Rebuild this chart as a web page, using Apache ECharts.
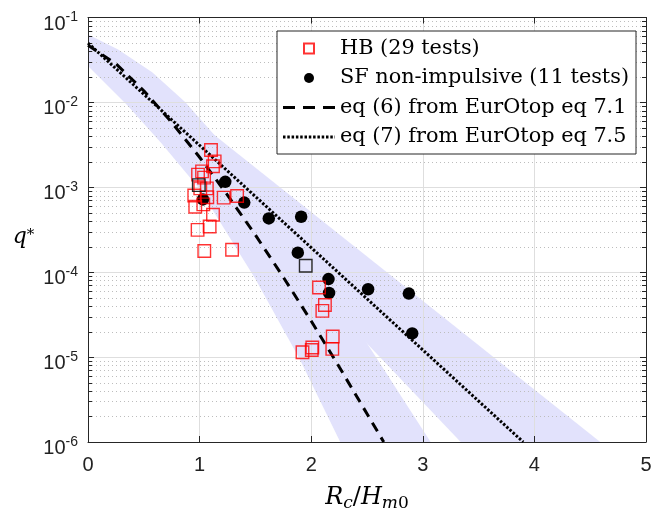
<!DOCTYPE html>
<html><head><meta charset="utf-8">
<script src="https://cdn.jsdelivr.net/npm/echarts@6/dist/echarts.min.js"></script>
<style>html,body{margin:0;padding:0;background:#fff}#c{width:666px;height:517px}</style>
</head><body><div id="c"></div>
<script>
// ---- data ----
const hbX = [1.102, 1.135, 1.120, 1.022, 0.986, 1.040, 0.952, 1.065, 1.069, 1.216, 1.336, 0.961, 1.033, 1.120, 0.982, 1.090, 1.042, 1.291, 1.006,
             2.070, 2.123, 2.100, 2.193, 2.189, 2.010, 2.005, 1.922];
const hbQ = [2.75e-3, 2.02e-3, 1.77e-3, 1.54e-3, 1.41e-3, 1.30e-3, 8.0e-4, 9.7e-4, 7.65e-4, 7.55e-4, 7.9e-4, 5.9e-4, 6.3e-4, 4.75e-4, 3.15e-4, 3.45e-4, 1.78e-4, 1.84e-4, 9.7e-4,
             6.6e-5, 4.1e-5, 3.5e-5, 1.75e-5, 1.25e-5, 1.30e-5, 1.21e-5, 1.14e-5];
const hbDarkX = [0.993, 1.951];
const hbDarkQ = [1.06e-3, 1.19e-4];
const sfX = [1.03, 1.23, 1.40, 1.62, 1.91, 1.88, 2.155, 2.16, 2.51, 2.875, 2.905];
const sfQ = [7.2e-4, 1.16e-3, 6.6e-4, 4.3e-4, 4.5e-4, 1.7e-4, 8.3e-5, 5.7e-5, 6.3e-5, 5.6e-5, 1.9e-5];
const eq6X = [0, 0.25, 0.5, 0.75, 1.0, 1.25, 1.5, 1.75, 2.0, 2.25, 2.5, 2.65];
const eq6Q = [0.047, 0.0285, 0.0137, 0.00582, 0.00226, 8.1e-4, 2.74e-4, 8.75e-5, 2.66e-5, 7.7e-6, 2.15e-6, 1.0e-6];
const eq7X = [0, 3.9];
const eq7Q = [0.05, 1.0e-6];
// uncertainty band around eq (6)
const band6UpX = [0, 0.27, 0.575, 0.87, 1.2, 1.5, 2.0, 2.5, 3.07];
const band6UpQ = [0.063, 0.0419, 0.0226, 0.0101, 3.29e-3, 1.10e-3, 1.35e-4, 1.46e-5, 1.0e-6];
const band6LoX = [0, 0.35, 0.66, 1.0, 1.5, 1.9, 2.26];
const band6LoQ = [0.0269, 9.33e-3, 3.29e-3, 9.55e-4, 8.32e-5, 9.33e-6, 1.0e-6];
// uncertainty band around eq (7)
const band7UpX = [0, 4.59];
const band7UpQ = [0.063, 1.0e-6];
const band7LoX = [0, 3.34];
const band7LoQ = [0.041, 1.0e-6];
// axes
const xTicks = [0, 1, 2, 3, 4, 5];
const yTickExp = [-6, -5, -4, -3, -2, -1];
const yMinorMult = [2, 3, 4, 5, 6, 7, 8, 9];
const legendNames = ['HB (29 tests)', 'SF non-impulsive (11 tests)', 'eq (6) from EurOtop eq 7.1', 'eq (7) from EurOtop eq 7.5'];

// ---- chart ----
const pairs = (xs, qs) => xs.map((x, i) => [x, qs[i]]);
const bandColor = '#e2e2fc';
const axisColor = '#262626';

function bandRenderer(ux, uq, lx, lq) {
  return function (params, api) {
    const pts = [];
    for (let i = 0; i < ux.length; i++) pts.push(api.coord([ux[i], uq[i]]));
    for (let i = lx.length - 1; i >= 0; i--) pts.push(api.coord([lx[i], lq[i]]));
    return { type: 'polygon', shape: { points: pts }, style: { fill: bandColor } };
  };
}
function minorGrid(params, api) {
  const children = [];
  const x0 = api.coord([xTicks[0], 1e-3])[0];
  const x1 = api.coord([xTicks[xTicks.length - 1], 1e-3])[0];
  for (let d = 0; d < yTickExp.length - 1; d++) {
    for (const m of yMinorMult) {
      const v = m * Math.pow(10, yTickExp[d]);
      const y = Math.round(api.coord([0, v])[1]) + 0.5;
      children.push({ type: 'line', shape: { x1: x0, y1: y, x2: x1, y2: y }, style: { stroke: '#bdbdbd', lineWidth: 1, lineDash: [1, 3] } });
      children.push({ type: 'line', shape: { x1: x0, y1: y, x2: x0 + 4, y2: y }, style: { stroke: axisColor, lineWidth: 1 } });
      children.push({ type: 'line', shape: { x1: x1 - 4, y1: y, x2: x1, y2: y }, style: { stroke: axisColor, lineWidth: 1 } });
    }
  }
  return { type: 'group', children };
}

const axisLine = { show: true, onZero: false, lineStyle: { color: axisColor, width: 1 } };
const axisTick = { show: true, inside: true, length: 6, lineStyle: { color: axisColor, width: 1 } };
const yLabel = {
  fontFamily: 'Liberation Sans', color: '#222', margin: 10, showMinLabel: true, showMaxLabel: true,
  formatter: function (v) {
    const e = Math.round(Math.log10(v));
    return yTickExp.indexOf(e) >= 0 ? '{b|10}{s|' + e + '}' : '';
  },
  rich: {
    b: { fontFamily: 'Liberation Sans', fontSize: 20, color: '#222', padding: [13, 0, 0, 0] },
    s: { fontFamily: 'Liberation Sans', fontSize: 14, color: '#222' }
  }
};
const noSymbol = { color: 'rgba(0,0,0,0)', borderColor: 'rgba(0,0,0,0)', borderWidth: 0, opacity: 0 };

const option = {
  animation: false,
  backgroundColor: '#fff',
  grid: { left: 88, top: 17.5, width: 558, height: 430, containLabel: false },
  legend: {
    data: [
      { name: legendNames[0], icon: 'path://M0,0L10,0L10,10L0,10Z' },
      { name: legendNames[1], icon: 'circle' },
      { name: legendNames[2], itemStyle: noSymbol, lineStyle: { color: '#000', width: 3, type: [12, 8] } },
      { name: legendNames[3], itemStyle: noSymbol, lineStyle: { color: '#000', width: 3, type: [2.5, 1.8] } }
    ],
    orient: 'vertical', left: 277, top: 31, z: 10,
    itemWidth: 52, itemHeight: 10, itemGap: 5.5,
    padding: [5.5, 7, 5, 4.5],
    backgroundColor: '#fff', borderColor: axisColor, borderWidth: 1, borderRadius: 0,
    selectedMode: false,
    textStyle: { fontFamily: 'DejaVu Serif', fontSize: 20.8, color: '#000', lineHeight: 24 }
  },
  xAxis: [
    {
      type: 'value', min: 0, max: 5, interval: 1, position: 'bottom', z: 3,
      axisLine, axisTick,
      axisLabel: { fontFamily: 'Liberation Sans', fontSize: 20, color: '#222', margin: 13, showMinLabel: true, showMaxLabel: true },
      splitLine: { show: true, lineStyle: { color: '#dedede', width: 1 } },
      name: '{i|R}{sub|c}{n|/}{i|H}{sub|m}{subn|0}', nameLocation: 'middle', nameGap: 56,
      nameTextStyle: {
        align: 'center', verticalAlign: 'middle',
        rich: {
          i: { fontFamily: 'DejaVu Serif', fontStyle: 'italic', fontSize: 24, color: '#000' },
          n: { fontFamily: 'DejaVu Serif', fontSize: 24, color: '#000' },
          sub: { fontFamily: 'DejaVu Serif', fontStyle: 'italic', fontSize: 17, color: '#000', padding: [11, 0, 0, 0] },
          subn: { fontFamily: 'DejaVu Serif', fontSize: 17, color: '#000', padding: [11, 0, 0, 0] }
        }
      }
    },
    {
      type: 'value', min: 0, max: 5, interval: 1, position: 'top', z: 3,
      axisLine, axisTick, axisLabel: { show: false }, splitLine: { show: false }
    }
  ],
  yAxis: [
    {
      type: 'log', logBase: 10, min: 1e-6, max: 1e-1, splitNumber: 5, position: 'left', z: 3,
      axisLine, axisTick, axisLabel: yLabel,
      splitLine: { show: true, lineStyle: { color: '#dedede', width: 1 } },
      name: '{q|q}{s|*}', nameLocation: 'middle', nameGap: 64.5, nameRotate: 0,
      nameTextStyle: {
        align: 'center', verticalAlign: 'middle', padding: [16, 0, 0, 0],
        rich: {
          q: { fontFamily: 'DejaVu Serif', fontStyle: 'italic', fontSize: 22, color: '#000' },
          s: { fontFamily: 'DejaVu Serif', fontSize: 15, color: '#000', padding: [0, 0, 6, 0] }
        }
      }
    },
    {
      type: 'log', logBase: 10, min: 1e-6, max: 1e-1, splitNumber: 5, position: 'right', z: 3,
      axisLine, axisTick, axisLabel: { show: false }, splitLine: { show: false }
    }
  ],
  series: [
    { type: 'custom', name: 'band6', z: 1, silent: true, data: [[0, 1e-3]], encode: { x: 0, y: 1 },
      renderItem: bandRenderer(band6UpX, band6UpQ, band6LoX, band6LoQ) },
    { type: 'custom', name: 'band7', z: 1, silent: true, data: [[0, 1e-3]], encode: { x: 0, y: 1 },
      renderItem: bandRenderer(band7UpX, band7UpQ, band7LoX, band7LoQ) },
    { type: 'custom', name: 'minor', z: 2, silent: true, data: [[0, 1e-3]], encode: { x: 0, y: 1 },
      renderItem: minorGrid },
    { type: 'line', name: legendNames[2], z: 5, data: pairs(eq6X, eq6Q), symbol: 'none', silent: true,
      lineStyle: { color: '#000', width: 3, type: [10, 7] }, itemStyle: { color: '#000' } },
    { type: 'line', name: legendNames[3], z: 5, data: pairs(eq7X, eq7Q), symbol: 'none', silent: true,
      lineStyle: { color: '#000', width: 3, type: [2.5, 1.8] }, itemStyle: { color: '#000' } },
    { type: 'scatter', name: legendNames[1], z: 6, data: pairs(sfX, sfQ), symbol: 'circle', symbolSize: 12.5,
      itemStyle: { color: '#000', opacity: 1 } },
    { type: 'scatter', name: legendNames[0], z: 7, data: pairs(hbX, hbQ), symbol: 'rect', symbolSize: 12.5,
      itemStyle: { color: 'rgba(0,0,0,0)', borderColor: 'rgba(255,0,0,0.8)', borderWidth: 1.4, opacity: 1 } },
    { type: 'scatter', name: 'HB dark', z: 7, data: pairs(hbDarkX, hbDarkQ), symbol: 'rect', symbolSize: 12.5,
      itemStyle: { color: 'rgba(0,0,0,0)', borderColor: 'rgba(20,20,20,0.9)', borderWidth: 1.4, opacity: 1 } }
  ]
};
const chart = echarts.init(document.getElementById('c'), null, { renderer: 'canvas', width: 666, height: 517 });
chart.setOption(option);
</script>
</body></html>
